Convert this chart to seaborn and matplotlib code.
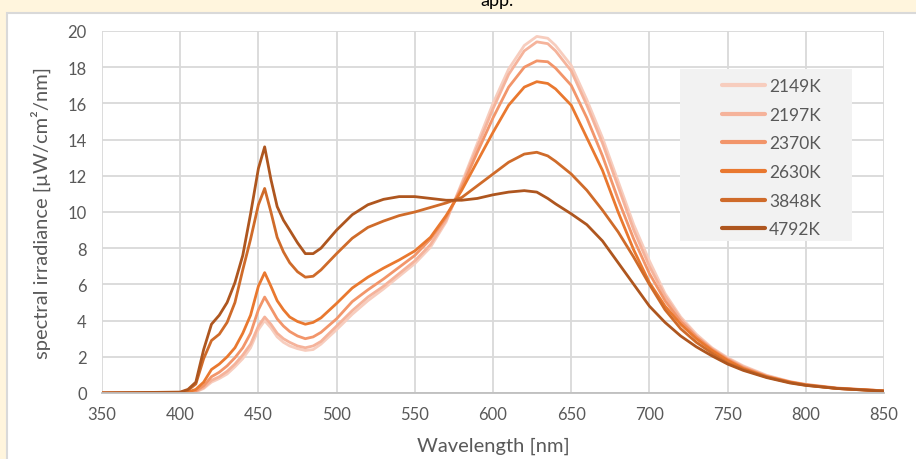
import pandas as pd
import matplotlib.pyplot as plt
import matplotlib.patches as mpatches
import seaborn as sns

# wavelength grid (nm) and spectral irradiance per CCT
wavelength = [350, 400, 405, 410, 415, 420, 425, 430, 435, 440, 445, 450, 454, 458,
              462, 466, 470, 475, 480, 485, 490, 500, 510, 520, 530, 540, 550, 560,
              570, 580, 590, 600, 610, 620, 628, 635, 640, 650, 660, 670, 680, 690,
              700, 710, 720, 730, 740, 750, 760, 775, 790, 800, 820, 850]

k2149 = [0, 0, 0.02, 0.06, 0.25, 0.6, 0.8, 1.05, 1.45, 1.9, 2.5, 3.5, 4.0, 3.6,
         3.1, 2.8, 2.6, 2.45, 2.35, 2.4, 2.7, 3.5, 4.35, 5.1, 5.75, 6.45, 7.15, 8.05,
         9.45, 11.6, 13.8, 16.0, 17.9, 19.2, 19.7, 19.6, 19.2, 18.1, 16.2, 14.1, 11.7, 9.3,
         7.3, 5.5, 4.2, 3.25, 2.5, 1.95, 1.5, 0.98, 0.63, 0.48, 0.28, 0.12]
k2197 = [0, 0, 0.02, 0.08, 0.3, 0.7, 0.9, 1.2, 1.6, 2.1, 2.7, 3.7, 4.2, 3.8,
         3.3, 3.0, 2.8, 2.6, 2.5, 2.6, 2.85, 3.7, 4.55, 5.3, 5.9, 6.6, 7.3, 8.2,
         9.55, 11.5, 13.6, 15.7, 17.6, 18.9, 19.4, 19.3, 18.9, 17.8, 15.9, 13.8, 11.4, 9.0,
         7.0, 5.35, 4.1, 3.15, 2.45, 1.9, 1.45, 0.95, 0.62, 0.47, 0.27, 0.12]
k2370 = [0, 0, 0.03, 0.12, 0.4, 0.9, 1.15, 1.5, 1.95, 2.5, 3.3, 4.6, 5.3, 4.7,
         4.1, 3.7, 3.4, 3.15, 3.0, 3.1, 3.35, 4.1, 5.05, 5.7, 6.3, 6.95, 7.6, 8.5,
         9.7, 11.35, 13.3, 15.2, 16.9, 18.0, 18.35, 18.3, 17.95, 17.0, 15.2, 13.1, 10.7, 8.5,
         6.6, 5.1, 3.95, 3.1, 2.4, 1.85, 1.4, 0.92, 0.6, 0.45, 0.26, 0.12]
k2630 = [0, 0, 0.05, 0.2, 0.6, 1.3, 1.6, 2.0, 2.5, 3.3, 4.3, 5.9, 6.65, 5.9,
         5.1, 4.6, 4.2, 3.95, 3.8, 3.9, 4.15, 4.95, 5.8, 6.4, 6.9, 7.35, 7.85, 8.6,
         9.8, 11.2, 12.8, 14.4, 15.9, 16.9, 17.2, 17.1, 16.8, 15.9, 14.1, 12.3, 10.0, 7.9,
         6.1, 4.8, 3.8, 3.0, 2.35, 1.8, 1.35, 0.9, 0.6, 0.45, 0.25, 0.12]
k3848 = [0, 0.03, 0.15, 0.5, 1.9, 2.9, 3.25, 3.9, 5.0, 6.8, 8.5, 10.4, 11.3, 10.0,
         8.6, 7.8, 7.2, 6.7, 6.4, 6.45, 6.8, 7.7, 8.55, 9.15, 9.5, 9.8, 10.0, 10.25,
         10.5, 10.8, 11.45, 12.1, 12.75, 13.2, 13.3, 13.1, 12.8, 12.1, 11.2, 10.1, 8.9, 7.5,
         6.0, 4.6, 3.55, 2.8, 2.2, 1.65, 1.3, 0.88, 0.58, 0.43, 0.25, 0.1]
k4792 = [0, 0.05, 0.2, 0.6, 2.4, 3.8, 4.3, 5.0, 6.1, 7.6, 9.9, 12.4, 13.6, 11.8,
         10.3, 9.55, 9.0, 8.3, 7.7, 7.7, 8.0, 9.0, 9.85, 10.4, 10.7, 10.85, 10.85, 10.75,
         10.65, 10.65, 10.75, 10.95, 11.1, 11.18, 11.1, 10.75, 10.45, 9.9, 9.3, 8.4, 7.2, 6.0,
         4.8, 3.9, 3.15, 2.55, 2.05, 1.6, 1.25, 0.85, 0.55, 0.42, 0.25, 0.1]

labels = ['2149K', '2197K', '2370K', '2630K', '3848K', '4792K']
series = [k2149, k2197, k2370, k2630, k3848, k4792]
colors = ['#F7CDBE', '#F5B39B', '#F2956A', '#E9782F', '#CF6B2A', '#AE561F']

df = pd.concat([pd.DataFrame({'wl': wavelength, 'irr': s, 'cct': lab})
                for lab, s in zip(labels, series)], ignore_index=True)

sns.set_style('white')
plt.rcParams['font.family'] = ['Lato', 'DejaVu Sans']
grey = '#595959'

fig = plt.figure(figsize=(9.16, 4.60), dpi=100)
fig.patch.set_facecolor('#FFF5DD')
# white chart area with light border
fig.add_artist(mpatches.Rectangle((7 / 916, -0.1), 1.0, 1 - 14 / 460 + 0.1,
                                  transform=fig.transFigure, facecolor='white',
                                  edgecolor='#D9D9D9', lw=1.5, zorder=0))
# title is cut off at the top of the picture
fig.text(497 / 916, 1 - 1 / 460, 'app.', ha='center', va='center',
         fontsize=13, color='black')

ax = fig.add_axes([102 / 916, 1 - 394 / 460, 782 / 916, 362 / 460])
ax.set_facecolor('white')

sns.lineplot(data=df, x='wl', y='irr', hue='cct', palette=colors,
             hue_order=labels, lw=2.0, errorbar=None, ax=ax, legend=True)

ax.set_xlim(350, 850)
ax.set_ylim(0, 20)
ax.set_xticks(range(350, 851, 50))
ax.set_yticks(range(0, 21, 2))
ax.grid(True, color='#D9D9D9', lw=1.3)
ax.set_axisbelow(True)
for sp in ['top', 'right', 'left']:
    ax.spines[sp].set_visible(False)
ax.spines['bottom'].set_color('#BFBFBF')
ax.spines['bottom'].set_linewidth(1.3)
ax.tick_params(axis='both', length=0, labelsize=12, labelcolor=grey)
ax.tick_params(axis='x', pad=9)
ax.tick_params(axis='y', pad=11)
ax.set_xlabel('Wavelength [nm]', fontsize=14.5, color=grey, labelpad=11)
ax.set_ylabel('spectral irradiance [µW/cm²/nm]', fontsize=14.5, color=grey, labelpad=12)

# legend panel
ax.add_patch(mpatches.Rectangle(((680 - 102) / 782, (394 - 242) / 362),
                                172 / 782, 172 / 362, transform=ax.transAxes,
                                facecolor='#F2F2F2', edgecolor='none', zorder=1.5))
leg = ax.legend(loc='upper left', bbox_to_anchor=((722 - 102) / 782, (394 - 79) / 362),
                frameon=False, fontsize=12.5, labelcolor=grey, handlelength=2.45,
                handletextpad=0.25, labelspacing=0.73, borderpad=0, borderaxespad=0)
for h in leg.get_lines():
    h.set_linewidth(3)

fig.savefig('out.png', dpi=100, facecolor=fig.get_facecolor())
